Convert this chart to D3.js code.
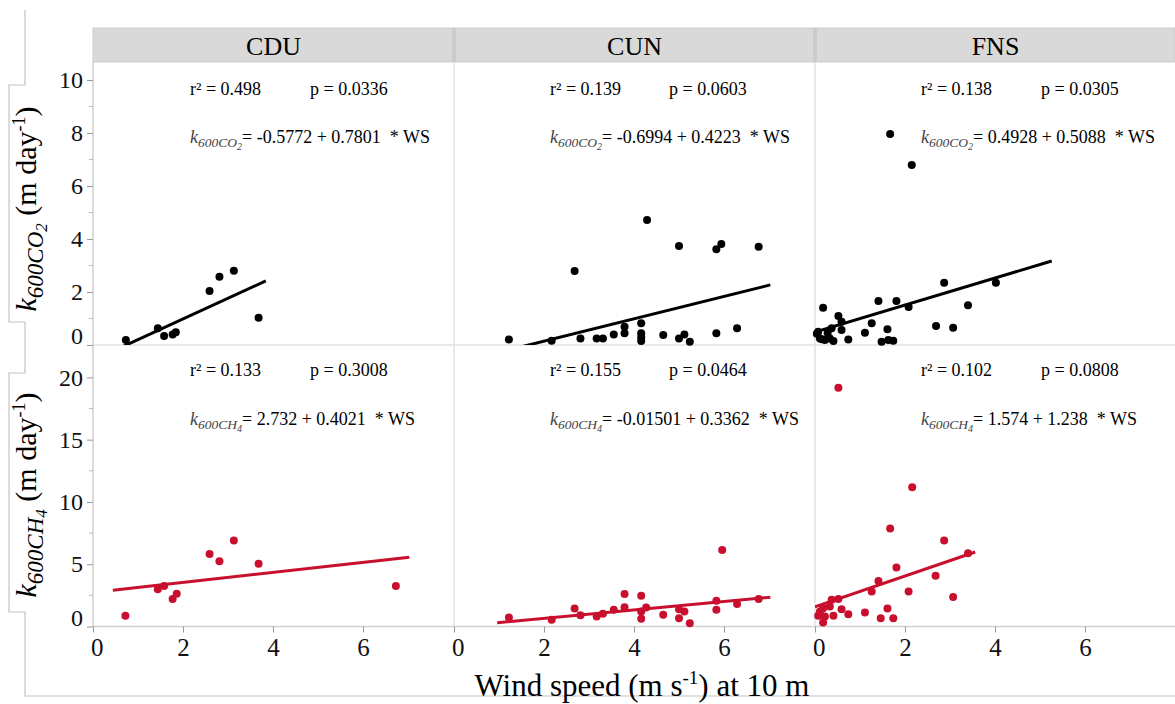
<!DOCTYPE html>
<html>
<head>
<meta charset="utf-8">
<script src="https://cdn.jsdelivr.net/npm/d3@7"></script>
<style>
  body { margin: 0; background: #fff; }
  svg { font-family: "Liberation Serif", "Times New Roman", "DejaVu Serif", serif; }
</style>
</head>
<body>
<svg id="chart" width="1175" height="704"></svg>
<script>
// ---- data ----
const sites = ["CDU", "CUN", "FNS"];
const gases = ["CO2", "CH4"];

// wind speed (m/s) and k600 (m/day) per site
const cduWsCo2 = [0.73, 1.44, 1.58, 1.77, 1.84, 2.59, 2.81, 3.13, 3.68];
const cduCo2   = [0.19, 0.63, 0.34, 0.40, 0.48, 2.04, 2.58, 2.80, 1.03];
const cduWsCh4 = [0.72, 1.44, 1.58, 1.77, 1.86, 2.59, 2.81, 3.13, 3.68, 6.73];
const cduCh4   = [0.86, 3.00, 3.26, 2.20, 2.62, 5.83, 5.24, 6.90, 5.03, 3.26];

const cunWsCo2 = [1.22, 2.17, 2.68, 2.81, 3.17, 3.31, 3.55, 3.79, 3.79, 4.16, 4.16, 4.16, 4.16, 4.29, 4.65, 5.00, 5.00, 5.12, 5.24, 5.83, 5.94, 5.83, 6.29, 6.77];
const cunCo2   = [0.21, 0.16, 2.79, 0.25, 0.25, 0.25, 0.40, 0.69, 0.44, 0.82, 0.44, 0.29, 0.15, 4.72, 0.38, 3.74, 0.25, 0.40, 0.12, 3.61, 3.81, 0.44, 0.63, 3.71];
const cunWsCh4 = [1.22, 2.17, 2.68, 2.81, 3.17, 3.31, 3.55, 3.79, 3.79, 4.16, 4.27, 4.16, 4.16, 4.65, 5.00, 5.00, 5.12, 5.24, 5.83, 5.83, 5.96, 6.29, 6.77];
const cunCh4   = [0.72, 0.54, 1.44, 0.91, 0.80, 1.02, 1.34, 2.60, 1.55, 2.46, 1.52, 1.20, 0.62, 0.94, 1.39, 0.67, 1.20, 0.27, 2.06, 1.34, 6.15, 1.80, 2.20];

const fnsWsCo2 = [1.67, 2.15, 0.18, 0.52, 0.59, 0.59, 0.37, 0.07, 0.11, 0.22, 0.33, 0.41, 0.74, 1.11, 1.26, 1.41, 1.61, 1.48, 1.63, 1.74, 1.81, 2.08, 2.69, 2.87, 3.07, 3.40, 4.02, 0.04, 0.15, 0.28];
const fnsCo2   = [7.96, 6.79, 1.41, 1.09, 0.88, 0.57, 0.63, 0.50, 0.25, 0.19, 0.25, 0.15, 0.21, 0.46, 0.82, 1.66, 0.59, 0.12, 0.19, 0.16, 1.66, 1.43, 0.72, 2.35, 0.65, 1.50, 2.35, 0.42, 0.22, 0.45];
const fnsWsCh4 = [0.52, 2.16, 1.67, 2.87, 1.81, 3.40, 2.68, 1.41, 1.26, 2.08, 3.07, 0.52, 0.37, 0.33, 0.18, 0.59, 0.11, 0.07, 0.22, 0.41, 0.74, 1.11, 1.61, 1.46, 1.74, 0.18];
const fnsCh4   = [19.17, 11.18, 7.86, 6.90, 4.73, 5.88, 4.07, 3.66, 2.81, 2.81, 2.36, 2.20, 2.14, 1.60, 1.47, 1.39, 1.20, 0.86, 0.80, 0.86, 0.99, 1.12, 1.44, 0.67, 0.67, 0.32];

// regression results, order: CDU, CUN, FNS
const co2R2 = ["0.498", "0.139", "0.138"];
const co2P = ["0.0336", "0.0603", "0.0305"];
const co2Intercept = [-0.5772, -0.6994, 0.4928];
const co2Slope = [0.7801, 0.4223, 0.5088];
const co2FitRange = [[0.44, 3.84], [0.96, 7.03], [0.0, 5.26]];

const ch4R2 = ["0.133", "0.155", "0.102"];
const ch4P = ["0.3008", "0.0464", "0.0808"];
const ch4Intercept = [2.732, -0.01501, 1.574];
const ch4Slope = [0.4021, 0.3362, 1.238];
const ch4FitRange = [[0.44, 7.03], [0.96, 7.03], [0.0, 3.56]];

const xTicks = [0, 2, 4, 6];
const co2Ticks = [0, 2, 4, 6, 8, 10];
const co2Minor = [1, 3, 5, 7, 9];
const ch4Ticks = [0, 5, 10, 15, 20];
const ch4Minor = [2.5, 7.5, 12.5, 17.5];

// ---- layout ----
const svg = d3.select("#chart");
const serif = "'Liberation Serif', 'Times New Roman', serif";
const panelLeft = [93, 454, 815];
const panelW = 361;
const rightEdge = 1175;
const headTop = 28, headBottom = 62;
const midY = 345, axisY = 626.5;
const red = "#c8102e";

const x = d3.scaleLinear().domain([0, 8]).range([0, 360]);
const yCo2 = d3.scaleLinear().domain([0, 10.68]).range([midY, headBottom]);
const yCh4 = d3.scaleLinear().domain([0, 22.6]).range([axisY, midY]);

const pts = (ws, k) => ws.map((w, i) => ({ ws: w, k: k[i] }));
const rows = [
  { gas: "CO2", y: yCo2, color: "#000", ticks: co2Ticks, minor: co2Minor,
    data: [pts(cduWsCo2, cduCo2), pts(cunWsCo2, cunCo2), pts(fnsWsCo2, fnsCo2)],
    r2: co2R2, p: co2P, a: co2Intercept, b: co2Slope, range: co2FitRange,
    top: headBottom, bottom: midY, r2Y: 95, eqY: 143, labelY: 209 },
  { gas: "CH4", y: yCh4, color: red, ticks: ch4Ticks, minor: ch4Minor,
    data: [pts(cduWsCh4, cduCh4), pts(cunWsCh4, cunCh4), pts(fnsWsCh4, fnsCh4)],
    r2: ch4R2, p: ch4P, a: ch4Intercept, b: ch4Slope, range: ch4FitRange,
    top: midY, bottom: axisY, r2Y: 376, eqY: 425, labelY: 495 }
];

// outer frame with the two y-label boxes
svg.append("path")
  .attr("d", "M25,10 V85 H9 V322 H25 V373 H9 V612 H25 V696 H1175")
  .attr("fill", "none").attr("stroke", "#c4c4c4").attr("stroke-width", 1.2);

// panel grid lines
const grid = svg.append("g").attr("stroke", "#e2e2e2").attr("stroke-width", 1.5);
panelLeft.slice(1).forEach(px => {
  grid.append("line").attr("x1", px).attr("x2", px).attr("y1", headBottom).attr("y2", axisY);
});
grid.append("line").attr("x1", 93).attr("x2", rightEdge).attr("y1", midY).attr("y2", midY);
svg.append("line").attr("x1", 93).attr("x2", 93).attr("y1", headBottom).attr("y2", axisY)
  .attr("stroke", "#cfcfcf").attr("stroke-width", 1.5);
svg.append("line").attr("x1", 93).attr("x2", rightEdge).attr("y1", axisY).attr("y2", axisY)
  .attr("stroke", "#cfcfcf").attr("stroke-width", 1.5);

// header strip
svg.append("rect").attr("x", 93).attr("y", headTop).attr("width", rightEdge - 93).attr("height", headBottom - headTop)
  .attr("fill", "#d9d9d9").attr("stroke", "#cdcdcd");
panelLeft.slice(1).forEach(px => {
  svg.append("rect").attr("x", px - 2).attr("y", headTop).attr("width", 4).attr("height", headBottom - headTop)
    .attr("fill", "#cbcbcb");
});
svg.selectAll(".head").data(sites).enter().append("text")
  .attr("x", (d, i) => panelLeft[i] + panelW / 2)
  .attr("y", 55)
  .attr("text-anchor", "middle")
  .style("font-family", serif)
  .style("font-size", "26px")
  .text(d => d);

// clip paths for the fit lines (in page coordinates)
rows.forEach((row, r) => {
  panelLeft.forEach((px, c) => {
    svg.append("clipPath").attr("id", "clip" + r + c)
      .append("rect").attr("x", px).attr("y", row.top).attr("width", panelW).attr("height", row.bottom - row.top);
  });
});

rows.forEach((row, r) => {
  // y axis
  const yAxis = svg.append("g").attr("transform", "translate(93,0)")
    .call(d3.axisLeft(row.y).tickValues(row.ticks).tickSize(6).tickPadding(4));
  yAxis.select(".domain").remove();
  yAxis.selectAll(".tick line").attr("stroke", "#999");
  yAxis.selectAll(".tick text")
    .style("font-family", serif).style("font-size", "24px").attr("fill", "#111")
    .attr("dy", d => d === 0 ? "-0.05em" : "0.32em");
  svg.append("g").selectAll("line").data(row.minor).enter().append("line")
    .attr("x1", 89).attr("x2", 93)
    .attr("y1", d => row.y(d)).attr("y2", d => row.y(d))
    .attr("stroke", "#bbb");

  // y label: k600CO2 (m day-1)
  const lab = svg.append("text")
    .attr("transform", "translate(36," + row.labelY + ") rotate(-90)")
    .attr("text-anchor", "middle")
    .style("font-family", serif)
    .style("font-size", "30px");
  lab.append("tspan").style("font-style", "italic").text("k");
  lab.append("tspan").style("font-style", "italic").style("font-size", "23px").attr("dy", 7)
    .text("600" + row.gas.slice(0, 2));
  lab.append("tspan").style("font-style", "italic").style("font-size", "17px").attr("dy", 4)
    .text(row.gas.slice(2));
  lab.append("tspan").attr("dy", -11).text("\u00a0(m day");
  lab.append("tspan").style("font-size", "18px").attr("dy", -11).text("-1");
  lab.append("tspan").attr("dy", 11).text(")");

  panelLeft.forEach((px, c) => {
    const g = svg.append("g").attr("transform", "translate(" + px + ",0)");

    // fit line, clipped to its panel
    const lineData = row.range[c].map(w => ({ ws: w, k: row.a[c] + row.b[c] * w }));
    svg.append("g").attr("clip-path", "url(#clip" + r + c + ")")
      .append("path")
      .attr("transform", "translate(" + px + ",0)")
      .datum(lineData)
      .attr("d", d3.line().x(d => x(d.ws)).y(d => row.y(d.k)))
      .attr("fill", "none").attr("stroke", row.color).attr("stroke-width", 3);

    // points
    g.selectAll("circle").data(row.data[c]).enter().append("circle")
      .attr("cx", d => x(d.ws)).attr("cy", d => row.y(d.k))
      .attr("r", 4).attr("fill", row.color);

    // annotations
    const r2x = [97, 96, 106][c], px2 = [217, 215, 226][c];
    g.append("text").attr("x", r2x).attr("y", row.r2Y).style("font-family", serif).style("font-size", "18px")
      .text("r\u00b2 = " + row.r2[c]);
    g.append("text").attr("x", px2).attr("y", row.r2Y).style("font-family", serif).style("font-size", "18px")
      .text("p = " + row.p[c]);
    const eq = g.append("text").attr("x", r2x).attr("y", row.eqY)
      .style("font-family", serif).style("font-size", "18px")
      .style("white-space", "pre");
    eq.append("tspan").style("font-style", "italic").attr("fill", "#444").text("k");
    eq.append("tspan").style("font-style", "italic").attr("fill", "#444").style("font-size", "13.5px").attr("dy", 4)
      .text("600" + row.gas.slice(0, 2));
    eq.append("tspan").style("font-style", "italic").attr("fill", "#444").style("font-size", "10px").attr("dy", 3)
      .text(row.gas.slice(2));
    eq.append("tspan").attr("dy", -7)
      .text("= " + row.a[c] + " + " + row.b[c] + "  * WS");
  });
});

// x axes
panelLeft.forEach(px => {
  const xa = svg.append("g").attr("transform", "translate(" + px + "," + axisY + ")")
    .call(d3.axisBottom(x).tickValues(xTicks).tickSize(6).tickPadding(6));
  xa.select(".domain").remove();
  xa.selectAll(".tick line").attr("stroke", "#999");
  xa.selectAll(".tick text")
    .style("font-family", serif).style("font-size", "25px").attr("fill", "#111")
    .attr("dx", d => d === 0 ? "0.15em" : 0);
});

// x title
const xt = svg.append("text").attr("x", 642).attr("y", 696).attr("text-anchor", "middle")
  .style("font-family", serif)
  .style("font-size", "31px");
xt.append("tspan").text("Wind speed (m s");
xt.append("tspan").style("font-size", "19px").attr("dy", -12).text("-1");
xt.append("tspan").attr("dy", 12).text(") at 10 m");
</script>
</body>
</html>
